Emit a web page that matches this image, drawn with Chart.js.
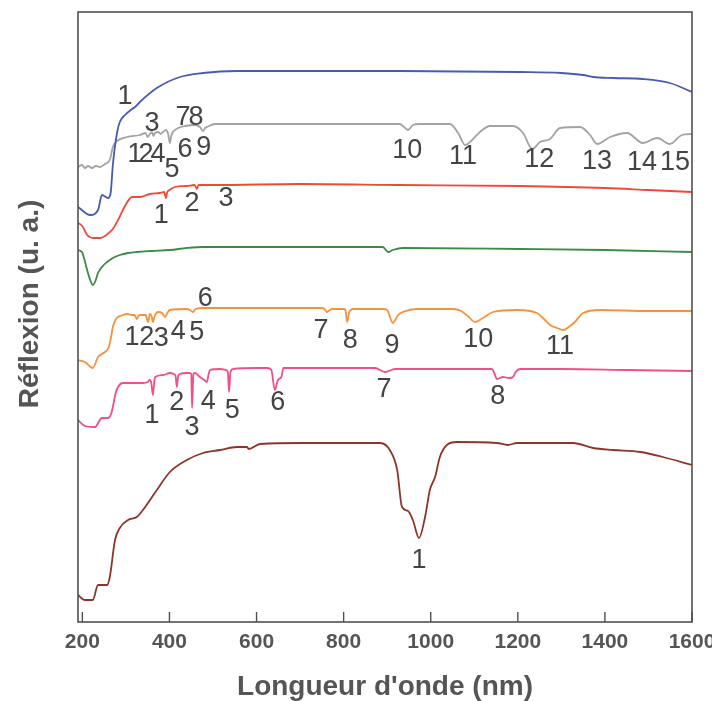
<!DOCTYPE html>
<html><head><meta charset="utf-8">
<script src="https://cdn.jsdelivr.net/npm/chart.js@4/dist/chart.umd.min.js"></script>
<style>html,body{margin:0;padding:0;background:#fff;}</style>
</head><body>
<canvas id="c" width="712" height="701"></canvas>
<script>
// ---- axis ticks / titles ----
const xTickValues = [200, 400, 600, 800, 1000, 1200, 1400, 1600];
const xTitle = "Longueur d'onde (nm)";
const yTitle = 'Réflexion (u. a.)';

// ---- series (wavelength nm / reflectance, arbitrary units) ----
const blueNm  = [190,218,236,245,259,265,270,280,286,298,314,321,332,371,424,477,555,700,929,1205,1300,1350,1373,1420,1487,1549,1600];
const blueVal = [415,407,412,427,424,429,457,490,500,507,513,515,520,534,545,549,551,551,551,550,549,547,545,544,543,539,530];

const greyNm  = [190,199,206,213,222,231,241,252,263,270,277,303,332,345,350,355,360,363,367,374,380,385,392,397,401,404,408,420,436,459,470,477,482,486,505,700,929,936,948,959,975,1044,1063,1079,1095,1113,1136,1189,1212,1233,1251,1274,1297,1343,1366,1382,1412,1451,1487,1520,1549,1577,1600];
const greyVal = [455,457,454,456,454,456,455,458,462,475,480,485,487,489,485,488,490,486,489,490,488,490,492,488,479,486,490,494,496,497,495,491,494,495,498,498,498,496,492,497,498,498,489,477,482,490,496,496,489,473,480,483,494,495,487,478,485,489,479,484,478,487,488];

const redNm  = [190,200,211,225,241,252,263,270,282,298,314,332,355,378,388,392,395,400,413,440,458,463,467,470,505,700,929,1205,1400,1500,1600];
const redVal = [399,396,387,384,384,386,390,393,402,416,425,425,428,429,430,424,430,432,435,436,437,433,437,437,437,438,437,436,434,432,430];

const greenNm  = [190,199,205,211,218,224,230,236,247,257,270,286,305,325,360,401,440,477,631,890,902,913,936,1205,1400,1600];
const greenVal = [372,370,362,352,342,337,341,349,356,360,364,367,369,370,371,372,374,375,375,375,370,372,374,373,372,370];

const orangeNm  = [190,206,224,236,252,261,266,270,276,282,293,303,315,320,325,329,332,345,351,353,355,359,362,366,374,383,390,395,401,440,447,454,460,477,600,700,750,756,762,768,775,800,804,808,813,822,890,900,913,925,936,968,1051,1070,1085,1102,1120,1143,1198,1244,1260,1274,1290,1304,1320,1331,1350,1389,1500,1600];
const orangeVal = [262,260,254,265,270,275,285,295,302,305,307,308,307,307,303,306,307,307,300,304,308,306,300,306,310,309,305,309,312,313,312,310,313,314,314,314,314,313,310,312,313,313,312,300,310,313,313,312,299,307,310,313,313,311,306,300,304,310,312,309,303,297,294,292,296,300,309,312,311,311];

const pinkNm  = [190,206,229,245,259,266,270,276,282,293,325,339,350,355,358,362,365,367,385,401,410,414,417,420,424,440,447,450,452,455,459,470,480,486,490,493,516,530,534,537,540,546,600,625,634,642,649,657,662,872,895,918,1140,1146,1152,1166,1180,1189,1195,1205,1300,1450,1600];
const pinkVal = [202,196,195,204,204,208,215,228,235,239,239,239,240,242,240,227,240,245,247,249,248,246,235,246,248,249,249,248,214,248,249,245,242,240,248,252,253,252,250,230,250,253,254,254,252,232,242,245,254,254,250,253,253,249,243,245,244,245,250,253,253,252,251];

const brownNm  = [190,206,224,236,257,263,275,286,305,325,339,371,401,440,477,516,555,578,582,608,707,800,884,906,923,934,948,959,973,987,998,1010,1021,1037,1060,1152,1177,1198,1327,1373,1419,1481,1533,1600];
const brownVal = [27,22,22,37,37,45,82,94,102,105,112,132,150,162,169,172,175,175,173,178,179,179,179,172,152,115,111,102,84,105,132,145,165,177,180,179,177,179,179,174,172,170,165,157];

// ---- peak labels (text, nm, value) ----
const blueLabels   = [['1',298,525]];
const greyLabels   = [['3',360,498],['7',431,504],['8',461,504],['1',321,467],['2',346,467],['4',374,467],['6',436,472],['5',406,452],['9',479,474],['10',946,471],['11',1074,465],['12',1249,462],['13',1382,460],['14',1485,459],['15',1561,459]];
const redLabels    = [['1',381,406],['2',452,418],['3',530,423]];
const greenLabels  = [];
const orangeLabels = [['6',482,323],['1',314,284],['2',348,284],['3',381,283],['4',420,290],['5',463,289],['7',748,291],['8',815,281],['9',911,276],['10',1109,282],['11',1297,275]];
const pinkLabels   = [['1',360,206],['2',417,219],['3',452,194],['4',489,220],['5',544,211],['6',649,219],['7',893,232],['8',1154,225]];
const brownLabels  = [['1',973,61]];

const seriesDefs = [
  {nm: blueNm,   val: blueVal,   color: '#4a5ab4', labels: blueLabels},
  {nm: greyNm,   val: greyVal,   color: '#a3a3a3', labels: greyLabels},
  {nm: redNm,    val: redVal,    color: '#ef4a38', labels: redLabels},
  {nm: greenNm,  val: greenVal,  color: '#3c8a44', labels: greenLabels},
  {nm: orangeNm, val: orangeVal, color: '#f6923c', labels: orangeLabels},
  {nm: pinkNm,   val: pinkVal,   color: '#ef4f8a', labels: pinkLabels},
  {nm: brownNm,  val: brownVal,  color: '#8e3529', labels: brownLabels}
];

const datasets = seriesDefs.map(s => ({
  data: s.nm.map((x, i) => ({x: x, y: s.val[i]})),
  borderColor: s.color,
  borderWidth: 1.8,
  pointRadius: 0,
  cubicInterpolationMode: 'monotone',
  fill: false
}));

const FONT = '"Liberation Sans", Arial, sans-serif';

const framePlugin = {
  id: 'frame',
  afterDatasetsDraw(chart) {
    const {ctx, chartArea: a, scales} = chart;
    ctx.save();
    ctx.strokeStyle = '#505050';
    ctx.lineWidth = 1.6;
    ctx.strokeRect(a.left, a.top, a.right - a.left, a.bottom - a.top);
    ctx.lineWidth = 1.4;
    xTickValues.forEach(v => {
      const px = scales.x.getPixelForValue(v);
      ctx.beginPath();
      ctx.moveTo(px, a.bottom);
      ctx.lineTo(px, a.bottom - 10);
      ctx.stroke();
    });
    // peak number labels
    ctx.font = '27px ' + FONT;
    ctx.fillStyle = '#444444';
    ctx.textAlign = 'center';
    ctx.textBaseline = 'middle';
    seriesDefs.forEach(s => s.labels.forEach(l => {
      ctx.fillText(l[0], scales.x.getPixelForValue(l[1]), scales.y.getPixelForValue(l[2]));
    }));
    // y axis title
    ctx.save();
    ctx.translate(30, (a.top + a.bottom) / 2 - 13);
    ctx.rotate(-Math.PI / 2);
    ctx.font = 'bold 28px ' + FONT;
    ctx.fillStyle = '#555555';
    ctx.fillText(yTitle, 0, 0);
    ctx.restore();
    ctx.restore();
  }
};

new Chart(document.getElementById('c'), {
  type: 'line',
  data: {datasets},
  plugins: [framePlugin],
  options: {
    responsive: false,
    animation: false,
    layout: {padding: {top: 12, right: 20, left: 0, bottom: 0}, autoPadding: false},
    plugins: {legend: {display: false}, tooltip: {enabled: false}},
    scales: {
      x: {
        type: 'linear', min: 190, max: 1600,
        afterBuildTicks: s => { s.ticks = xTickValues.map(v => ({value: v})); },
        afterFit: s => { s.height = 79; s.paddingLeft = 0; s.paddingRight = 0; },
        grid: {display: false, drawTicks: false},
        border: {display: false},
        ticks: {font: {family: FONT, size: 21, weight: 'bold'}, color: '#555555', padding: 8, maxRotation: 0, autoSkip: false,
                callback: v => String(v)},
        title: {display: true, text: xTitle, color: '#555555', padding: 0,
                font: {family: FONT, size: 28, weight: 'bold', lineHeight: 1}}
      },
      y: {
        type: 'linear', min: 0, max: 610,
        afterFit: s => { s.width = 78; s.paddingTop = 0; s.paddingBottom = 0; },
        grid: {display: false, drawTicks: false},
        border: {display: false},
        ticks: {display: false},
        title: {display: false, text: yTitle}
      }
    }
  }
});
</script>
</body></html>
